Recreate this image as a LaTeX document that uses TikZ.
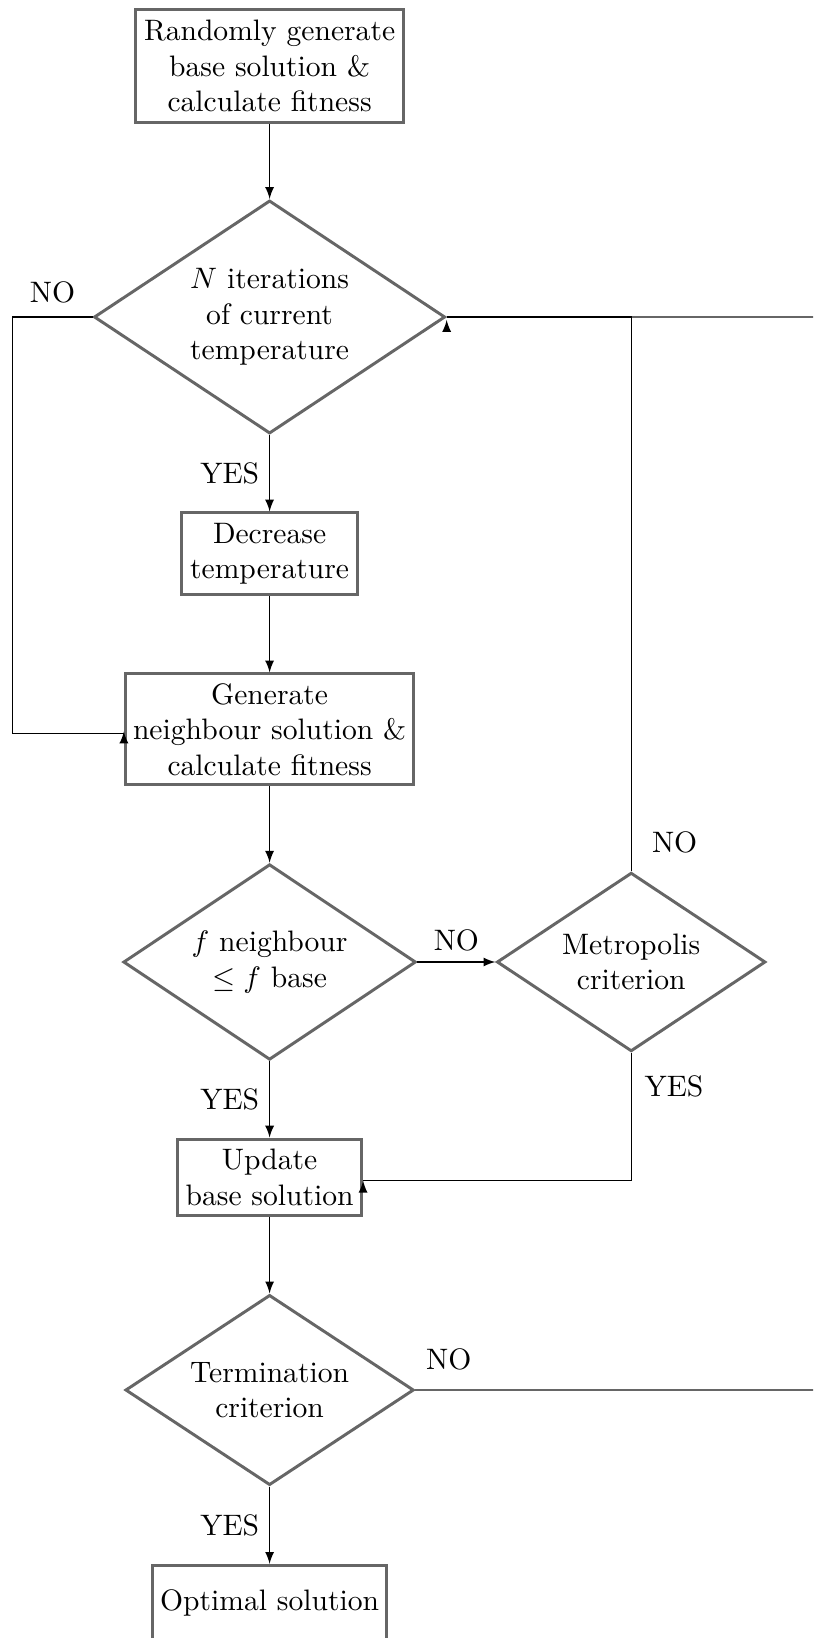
\documentclass[tikz,border=0pt]{standalone}
\usepackage{xcolor}
\usepackage{tikz}
\usetikzlibrary{shapes.geometric, arrows, positioning}
\usepackage{amsmath}

\begin{document}
\begin{tikzpicture}[x=0.338pt, y=-0.338pt, >=latex,
    block/.style={draw=black!60, line width=1pt, align=center, inner xsep=2pt, inner ysep=0pt},
    decision/.style={diamond, draw=black!60, line width=1pt, align=center, inner sep=0pt, aspect=1.5},
    backline/.style={draw=black!60, line width=0.6pt}]
\useasboundingbox (0,0) rectangle (813,1638);
\clip (0,0) rectangle (813,1638);

\node[block, minimum width=90.6pt, minimum height=38.2pt] (init) at (269.6,66) {Randomly generate\\base solution \&\\calculate fitness};
\node[decision, minimum width=118.7pt, minimum height=78.8pt] (iter) at (269.6,317) {$N$ iterations\\of current\\temperature};
\node[block, minimum width=59.4pt, minimum height=27.6pt] (decr) at (269.6,553.8) {Decrease\\temperature};
\node[block, minimum width=97.5pt, minimum height=37.5pt] (gen) at (269.6,729.4) {Generate\\neighbour solution \&\\calculate fitness};
\node[decision, minimum width=98.9pt, minimum height=66.1pt] (cmp) at (269.6,962) {$f$ neighbour\\$\leq f$ base};
\node[decision, minimum width=90.8pt, minimum height=60.4pt] (metro) at (631.2,962) {Metropolis\\criterion};
\node[block, minimum width=62.2pt, minimum height=25.8pt] (upd) at (269.6,1177.2) {Update\\base solution};
\node[decision, minimum width=97.5pt, minimum height=64.3pt] (term) at (269.6,1390) {Termination\\criterion};
\node[block, minimum width=79.1pt, minimum height=25.2pt] (opt) at (269.6,1602.6) {Optimal solution};

\coordinate (lft) at (12.5,317);
\coordinate (rgt) at (860,1390);

% main column
\draw[->] (init) -- (iter);
\draw[->] (iter) -- (decr) node[midway,left] {YES};
\draw[->] (decr) -- (gen);
\draw[->] (gen) -- (cmp);
\draw[->] (cmp) -- (metro) node[midway,above] {NO};
\draw[->] (cmp) -- (upd) node[midway,left] {YES};
\draw[->] (upd) -- (term);
\draw[->] (term) -- (opt) node[midway,left] {YES};

% loops back
\draw[backline] (term.east) -- (rgt) node[pos=0,above right,yshift=3pt,text=black] {NO} |- (iter.east);
\draw (iter.west) -- (lft) node[midway,above,yshift=1pt] {NO} |- ([yshift=-1.5pt]gen.west);
\draw[->] ([yshift=-4pt]gen.west) -- ([yshift=-0.7pt]gen.west);
\draw (metro.north) |- (iter.east) node[pos=0.026,right,xshift=3.5pt] {NO};
\draw[->] ([yshift=-4.3pt]iter.east) -- ([yshift=-1pt]iter.east);
\draw (metro.south) |- ([yshift=-1.2pt]upd.east) node[pos=0.133,right,xshift=1pt] {YES};
\draw[->] ([yshift=-4.5pt]upd.east) -- ([yshift=-1.2pt]upd.east);
\end{tikzpicture}
\end{document}
